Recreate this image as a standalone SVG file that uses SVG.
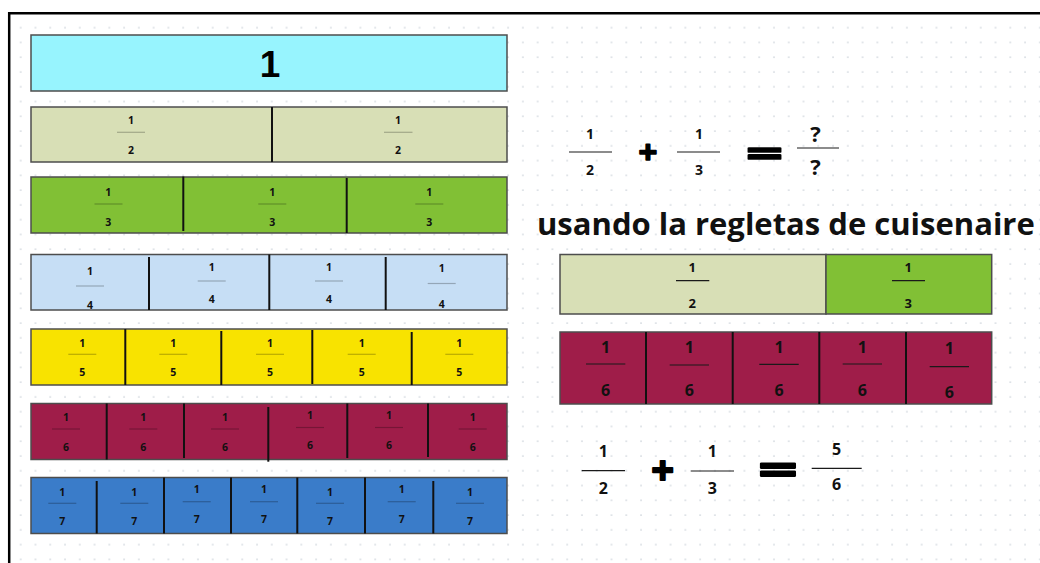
<svg xmlns="http://www.w3.org/2000/svg" width="1040" height="563" viewBox="0 0 1040 563">
  <defs>
    <pattern id="dots" width="14.77" height="14.77" patternUnits="userSpaceOnUse">
      <rect x="5.1" y="12.5" width="1.7" height="0.9" fill="#d3d8df"/>
      <rect x="5.5" y="12.1" width="0.9" height="1.7" fill="#d3d8df"/>
    </pattern>
    <style>
      .bar { stroke: #4d4d4d; stroke-width: 1.5; }
      .div { stroke: #111; stroke-width: 2; }
      .num { font-family: "Open Sans", "Noto Sans", sans-serif; font-weight: bold; fill: #111; text-anchor: middle; }
      .s { font-size: 10.5px; }
      .m { font-size: 13px; }
      .l { font-size: 16px; }
      .fl { stroke: #000; stroke-opacity: 0.25; stroke-width: 1.2; }
      .fd { stroke: #1a1a1a; stroke-width: 1.2; }
      .op { font-family: "Open Sans", "Noto Sans", sans-serif; font-weight: bold; fill: #000; stroke: #000; stroke-linejoin: round; text-anchor: middle; }
    </style>
  </defs>

  <!-- page and frame -->
  <rect x="0" y="0" width="1040" height="563" fill="#fff"/>
  <rect x="10" y="14" width="1030" height="549" fill="url(#dots)"/>
  <path d="M9.2 563 V13.2 H1040" fill="none" stroke="#000" stroke-width="2.5"/>

  <!-- whole -->
  <g id="bar-1">
    <rect class="bar" x="31" y="35" width="476" height="56" fill="#97f4fe"/>
    <text x="270" y="77" font-family="Liberation Sans, Arial, sans-serif" font-weight="bold" font-size="37" text-anchor="middle" fill="#000">1</text>
  </g>

  <!-- halves -->
  <g id="bar-2">
    <rect class="bar" x="31" y="107" width="476" height="55" fill="#d8dfb6"/>
    <line class="div" x1="272" y1="107" x2="272" y2="162"/>
    <g class="num s">
      <text x="131" y="123.5">1</text><text x="131" y="154">2</text>
      <text x="398" y="123.5">1</text><text x="398" y="154">2</text>
    </g>
    <line class="fl" x1="117" y1="132.3" x2="145" y2="132.3"/>
    <line class="fl" x1="384" y1="132.3" x2="412.5" y2="132.3"/>
  </g>

  <!-- thirds -->
  <g id="bar-3">
    <rect class="bar" x="31" y="177" width="476" height="56" fill="#81c035"/>
    <line class="div" x1="183.3" y1="176.5" x2="183.3" y2="231"/>
    <line class="div" x1="346.7" y1="178" x2="346.7" y2="233"/>
    <g class="num s">
      <text x="108.3" y="195.5">1</text><text x="108.3" y="226">3</text>
      <text x="272.3" y="195.5">1</text><text x="272.3" y="226">3</text>
      <text x="429.3" y="195.5">1</text><text x="429.3" y="226">3</text>
    </g>
    <line class="fl" x1="94.5" y1="204" x2="122.5" y2="204"/>
    <line class="fl" x1="258.3" y1="204" x2="286.3" y2="204"/>
    <line class="fl" x1="415.3" y1="204" x2="443.3" y2="204"/>
  </g>

  <!-- quarters -->
  <g id="bar-4">
    <rect class="bar" x="31" y="254.5" width="476" height="55.5" fill="#c6def5"/>
    <line class="div" x1="149" y1="257" x2="149" y2="310"/>
    <line class="div" x1="269.3" y1="254.5" x2="269.3" y2="310"/>
    <line class="div" x1="385.7" y1="257" x2="385.7" y2="310"/>
    <g class="num s">
      <text x="90" y="274.5">1</text><text x="90" y="308.5">4</text>
      <text x="211.7" y="271">1</text><text x="211.7" y="303">4</text>
      <text x="329" y="271">1</text><text x="329" y="303">4</text>
      <text x="441.7" y="272">1</text><text x="441.7" y="307.5">4</text>
    </g>
    <line class="fl" x1="76" y1="286" x2="104" y2="286"/>
    <line class="fl" x1="197.7" y1="281" x2="225.7" y2="281"/>
    <line class="fl" x1="315" y1="281" x2="343" y2="281"/>
    <line class="fl" x1="427.7" y1="283.5" x2="455.7" y2="283.5"/>
  </g>

  <!-- fifths -->
  <g id="bar-5">
    <rect class="bar" x="31" y="329" width="476" height="56" fill="#f8e300"/>
    <line class="div" x1="125.3" y1="329" x2="125.3" y2="385"/>
    <line class="div" x1="221.3" y1="331" x2="221.3" y2="385"/>
    <line class="div" x1="312.3" y1="330" x2="312.3" y2="384"/>
    <line class="div" x1="411.7" y1="332" x2="411.7" y2="385"/>
    <g class="num s">
      <text x="82.3" y="346.5">1</text><text x="82.3" y="376">5</text>
      <text x="173.3" y="346.5">1</text><text x="173.3" y="376">5</text>
      <text x="270" y="346.5">1</text><text x="270" y="376">5</text>
      <text x="361.7" y="346.5">1</text><text x="361.7" y="376">5</text>
      <text x="459.3" y="346.5">1</text><text x="459.3" y="376">5</text>
    </g>
    <line class="fl" x1="68.3" y1="354.3" x2="96.3" y2="354.3"/>
    <line class="fl" x1="159.3" y1="354.3" x2="187.3" y2="354.3"/>
    <line class="fl" x1="256" y1="354.3" x2="284" y2="354.3"/>
    <line class="fl" x1="347.7" y1="354.3" x2="375.7" y2="354.3"/>
    <line class="fl" x1="445.3" y1="354.3" x2="473.3" y2="354.3"/>
  </g>

  <!-- sixths -->
  <g id="bar-6">
    <rect class="bar" x="31" y="403.5" width="476" height="56" fill="#9f1d49"/>
    <line class="div" x1="106.7" y1="403.5" x2="106.7" y2="459.5"/>
    <line class="div" x1="184" y1="403.5" x2="184" y2="458"/>
    <line class="div" x1="268.3" y1="407" x2="268.3" y2="461.7"/>
    <line class="div" x1="347.3" y1="403.5" x2="347.3" y2="458"/>
    <line class="div" x1="428" y1="403.5" x2="428" y2="457"/>
    <g class="num s">
      <text x="66" y="420.5">1</text><text x="66" y="451">6</text>
      <text x="143.3" y="420.5">1</text><text x="143.3" y="451">6</text>
      <text x="225" y="420.5">1</text><text x="225" y="451">6</text>
      <text x="310" y="419">1</text><text x="310" y="449">6</text>
      <text x="389" y="419">1</text><text x="389" y="449">6</text>
      <text x="472.7" y="420.5">1</text><text x="472.7" y="451">6</text>
    </g>
    <line class="fl" x1="52" y1="429" x2="80" y2="429"/>
    <line class="fl" x1="129.3" y1="429" x2="157.3" y2="429"/>
    <line class="fl" x1="211" y1="429" x2="239" y2="429"/>
    <line class="fl" x1="296" y1="427.5" x2="324" y2="427.5"/>
    <line class="fl" x1="375" y1="427.5" x2="403" y2="427.5"/>
    <line class="fl" x1="458.7" y1="429" x2="486.7" y2="429"/>
  </g>

  <!-- sevenths -->
  <g id="bar-7">
    <rect class="bar" x="31" y="477.5" width="476" height="56" fill="#3a7cc9"/>
    <line class="div" x1="96.7" y1="481" x2="96.7" y2="533.5"/>
    <line class="div" x1="164" y1="477.5" x2="164" y2="533.5"/>
    <line class="div" x1="231" y1="477.5" x2="231" y2="533.5"/>
    <line class="div" x1="297.3" y1="477.5" x2="297.3" y2="533.5"/>
    <line class="div" x1="365" y1="477.5" x2="365" y2="533.5"/>
    <line class="div" x1="433.3" y1="481" x2="433.3" y2="533.5"/>
    <g class="num s">
      <text x="62.3" y="495.5">1</text><text x="62.3" y="525">7</text>
      <text x="134.3" y="495.5">1</text><text x="134.3" y="525">7</text>
      <text x="196.7" y="493">1</text><text x="196.7" y="523">7</text>
      <text x="264" y="493">1</text><text x="264" y="523">7</text>
      <text x="330" y="495.5">1</text><text x="330" y="525">7</text>
      <text x="401.7" y="493">1</text><text x="401.7" y="523">7</text>
      <text x="470" y="495.5">1</text><text x="470" y="525">7</text>
    </g>
    <line class="fl" x1="48.3" y1="503.3" x2="76.3" y2="503.3"/>
    <line class="fl" x1="120.3" y1="503.3" x2="148.3" y2="503.3"/>
    <line class="fl" x1="182.7" y1="501.7" x2="210.7" y2="501.7"/>
    <line class="fl" x1="250" y1="501.7" x2="278" y2="501.7"/>
    <line class="fl" x1="316" y1="503.3" x2="344" y2="503.3"/>
    <line class="fl" x1="387.7" y1="501.7" x2="415.7" y2="501.7"/>
    <line class="fl" x1="456" y1="503.3" x2="484" y2="503.3"/>
  </g>

  <!-- question: 1/2 + 1/3 = ?/? -->
  <g id="question">
    <g class="num" style="font-size:14px">
      <text x="590" y="139">1</text><text x="590" y="174.5">2</text>
      <text x="699" y="139">1</text><text x="699" y="174.5">3</text>
    </g>
    <line class="fd" x1="569" y1="152" x2="612" y2="152"/>
    <line class="fd" x1="677" y1="152" x2="720" y2="152"/>
    <text class="op" x="648" y="163.5" font-size="33" stroke-width="1.6">+</text>
    <text class="op" x="0" y="0" font-size="40" stroke-width="1.8" transform="translate(764.5 166.5) scale(1.6 0.95)">=</text>
    <g class="num" style="font-size:22px">
      <text x="815.5" y="141.5">?</text><text x="815.5" y="175">?</text>
    </g>
    <line class="fd" x1="797" y1="148" x2="839" y2="148"/>
  </g>

  <!-- heading -->
  <text id="heading" x="537" y="235" font-family="Open Sans, Noto Sans, sans-serif" font-weight="bold" font-size="31" fill="#111">usando la regletas de cuisenaire</text>

  <!-- half + third -->
  <g id="bar-half-third">
    <rect class="bar" x="560" y="254.5" width="266" height="59.5" fill="#d8dfb6"/>
    <rect class="bar" x="826" y="254.5" width="165.7" height="59.5" fill="#81c035"/>
    <g class="num m">
      <text x="692.3" y="271.7">1</text><text x="692.3" y="308.3">2</text>
      <text x="908.3" y="271.7">1</text><text x="908.3" y="308.3">3</text>
    </g>
    <line class="fd" x1="676" y1="280.7" x2="709.3" y2="280.7"/>
    <line class="fd" x1="892" y1="280.7" x2="925" y2="280.7"/>
  </g>

  <!-- five sixths -->
  <g id="bar-five-sixths">
    <rect class="bar" x="560" y="332" width="431.7" height="72" fill="#9f1d49"/>
    <line class="div" x1="646" y1="332" x2="646" y2="404" stroke="#2a0a14"/>
    <line class="div" x1="732.7" y1="332" x2="732.7" y2="404" stroke="#2a0a14"/>
    <line class="div" x1="819.3" y1="332" x2="819.3" y2="404" stroke="#2a0a14"/>
    <line class="div" x1="906" y1="332" x2="906" y2="404" stroke="#2a0a14"/>
    <g class="num l">
      <text x="605.7" y="353">1</text><text x="605.7" y="396">6</text>
      <text x="689.3" y="353">1</text><text x="689.3" y="396">6</text>
      <text x="779" y="353">1</text><text x="779" y="396">6</text>
      <text x="862.3" y="353">1</text><text x="862.3" y="396">6</text>
      <text x="949.3" y="354">1</text><text x="949.3" y="398">6</text>
    </g>
    <line class="fd" x1="586" y1="364" x2="625.3" y2="364"/>
    <line class="fd" x1="669.7" y1="365" x2="709" y2="365"/>
    <line class="fd" x1="759.3" y1="364.3" x2="798.7" y2="364.3"/>
    <line class="fd" x1="842.7" y1="364" x2="882" y2="364"/>
    <line class="fd" x1="929.7" y1="366.7" x2="969" y2="366.7"/>
  </g>

  <!-- answer: 1/2 + 1/3 = 5/6 -->
  <g id="answer">
    <g class="num" style="font-size:16px">
      <text x="603.3" y="457.3">1</text><text x="603.3" y="494">2</text>
      <text x="712.3" y="457.3">1</text><text x="712.3" y="494">3</text>
      <text x="836.7" y="454.5">5</text><text x="836.7" y="489.5">6</text>
    </g>
    <line class="fd" x1="581.7" y1="470.7" x2="625" y2="470.7"/>
    <line class="fd" x1="690.7" y1="471" x2="734" y2="471"/>
    <line class="fd" x1="811.7" y1="468.3" x2="861.7" y2="468.3"/>
    <text class="op" x="662.7" y="483.5" font-size="40" stroke-width="1.8">+</text>
    <text class="op" x="0" y="0" font-size="44" stroke-width="2" transform="translate(778 484.5) scale(1.55 0.98)">=</text>
  </g>
</svg>
